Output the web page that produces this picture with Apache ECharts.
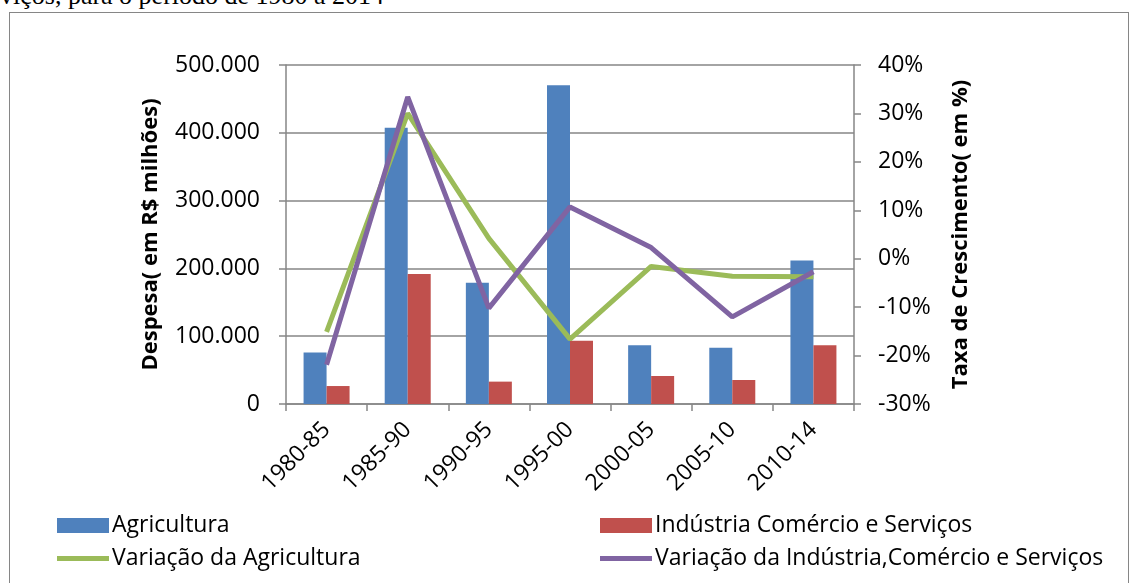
<!DOCTYPE html>
<html>
<head>
    <meta charset="utf-8">
    <title>Despesa e taxa de crescimento</title>
    <script src="https://cdn.jsdelivr.net/npm/echarts@6/dist/echarts.min.js"></script>
    <style>
        body { margin: 0; background: #fff; overflow: hidden; }
        #cap { position: absolute; left: 0; top: -19px; font: 26px "Liberation Serif", serif; color: #000; white-space: nowrap; }
        #box { position: absolute; left: 9px; top: 12px; width: 1118px; height: 600px; border: 1px solid #868686; border-bottom: none; }
        #main { position: absolute; left: 0; top: 0; width: 1131px; height: 583px; }
    </style>
</head>
<body>
<div id="cap">viços, para o período de 1980 a 2014</div>
<div id="box"></div>
<div id="main"></div>
<script type="text/javascript">

    /* dados ============================= */
    var periodos = ['1980-85', '1985-90', '1990-95', '1995-00', '2000-05', '2005-10', '2010-14'];
    var agricultura = [76000, 407500, 179000, 470000, 86500, 83000, 211500];
    var industria = [26500, 191700, 33000, 93400, 41300, 35400, 86600];
    var varAgricultura = [-15.1, 30.0, 4.2, -16.6, -1.6, -3.6, -3.7];
    var varIndustria = [-21.9, 33.4, -10.2, 10.7, 2.3, -12.0, -2.7];

    var fonte = '"Open Sans", "Liberation Sans", Arial, sans-serif';
    var cinza = '#868686';

    var myChart = echarts.init(document.getElementById('main'));

    function legenda(nome, left, top, linha) {
        return {
            data: [nome],
            left: left,
            top: top,
            icon: 'rect',
            itemWidth: 52,
            itemHeight: linha ? 5 : 15,
            itemGap: 0,
            textStyle: { fontFamily: fonte, fontSize: 23, color: '#000', padding: [0, 0, 0, -2] }
        };
    }

    myChart.setOption({
        animation: false,
        textStyle: { fontFamily: fonte },
        legend: [
            legenda('Agricultura', 52, 509, false),
            legenda('Indústria Comércio e Serviços', 595, 509, false),
            legenda('Variação da Agricultura', 52, 542, true),
            legenda('Variação da Indústria,Comércio e Serviços', 595, 542, true)
        ],
        grid: { left: 286, right: 277, top: 65, bottom: 179 },
        xAxis: {
            type: 'category',
            data: periodos,
            axisLine: { lineStyle: { color: cinza, width: 1.5 } },
            axisTick: { show: true, length: 7, lineStyle: { color: cinza, width: 1.5 } },
            axisLabel: { rotate: 45, fontSize: 23, color: '#000', margin: 22 }
        },
        yAxis: [
            {
                type: 'value',
                min: 0,
                max: 500000,
                interval: 100000,
                name: 'Despesa( em R$ milhões)',
                nameLocation: 'middle',
                nameGap: 124,
                nameTextStyle: { fontSize: 22, fontWeight: 'bold', color: '#000' },
                axisLine: { show: true, lineStyle: { color: cinza, width: 1.5 } },
                axisTick: { show: true, length: 7, lineStyle: { color: cinza, width: 1.5 } },
                splitLine: { lineStyle: { color: cinza, width: 1.5 } },
                axisLabel: {
                    fontSize: 23, color: '#000', margin: 26,
                    formatter: function (v) {
                        return v === 0 ? '0' : (v / 1000).toFixed(0) + '.000';
                    }
                }
            },
            {
                type: 'value',
                min: -30,
                max: 40,
                interval: 10,
                position: 'right',
                name: 'Taxa de Crescimento( em %)',
                nameLocation: 'middle',
                nameGap: 96,
                nameTextStyle: { fontSize: 22, fontWeight: 'bold', color: '#000' },
                axisLine: { show: true, lineStyle: { color: cinza, width: 1.5 } },
                axisTick: { show: true, length: 7, lineStyle: { color: cinza, width: 1.5 } },
                splitLine: { show: false },
                axisLabel: { fontSize: 23, color: '#000', margin: 24, formatter: '{value}%' }
            }
        ],
        series: [
            {
                name: 'Agricultura',
                type: 'bar',
                data: agricultura,
                barWidth: 23,
                barGap: '0%',
                itemStyle: { color: '#4f81bd' }
            },
            {
                name: 'Indústria Comércio e Serviços',
                type: 'bar',
                data: industria,
                barWidth: 23,
                barGap: '0%',
                itemStyle: { color: '#c0504d' }
            },
            {
                name: 'Variação da Agricultura',
                type: 'line',
                yAxisIndex: 1,
                data: varAgricultura,
                showSymbol: false,
                lineStyle: { color: '#9bbb59', width: 5 },
                itemStyle: { color: '#9bbb59' }
            },
            {
                name: 'Variação da Indústria,Comércio e Serviços',
                type: 'line',
                yAxisIndex: 1,
                data: varIndustria,
                showSymbol: false,
                lineStyle: { color: '#8064a2', width: 5 },
                itemStyle: { color: '#8064a2' }
            }
        ]
    });

</script>
</body>
</html>
